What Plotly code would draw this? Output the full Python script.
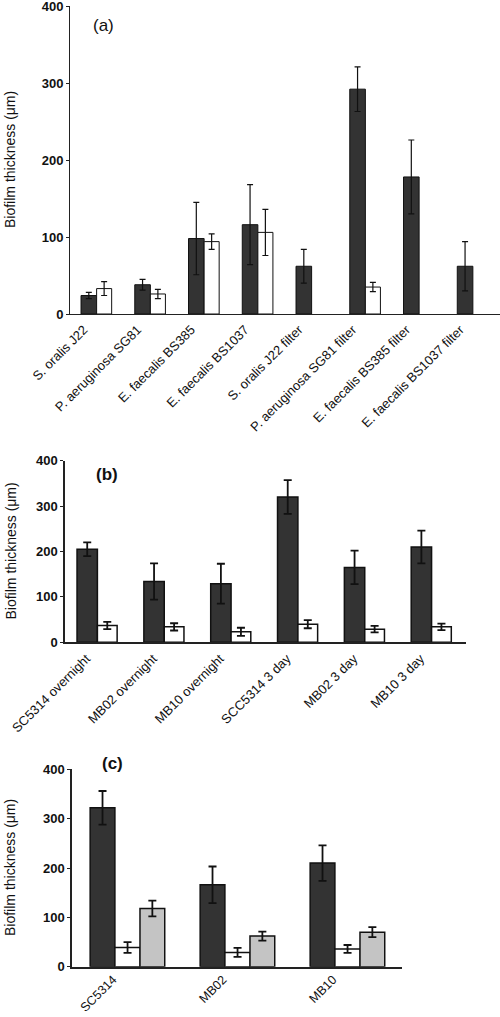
import plotly.graph_objects as go

W, H = 500, 1017

# ---------- Data ----------
cats_a = ["S. oralis J22", "P. aeruginosa SG81", "E. faecalis BS385", "E. faecalis BS1037",
          "S. oralis J22 filter", "P. aeruginosa SG81 filter", "E. faecalis BS385 filter",
          "E. faecalis BS1037 filter"]
dark_a = [24, 38, 98, 116, 62, 292, 178, 62]
dark_a_err = [4, 7, 47, 52, 22, 29, 48, 32]
white_a = [33, 26, 94, 106, None, 35, None, None]
white_a_err = [9, 6, 10, 30, None, 6, None, None]

cats_b = ["SC5314 overnight", "MB02 overnight", "MB10 overnight", "SCC5314 3 day",
          "MB02 3 day", "MB10 3 day"]
dark_b = [205, 134, 129, 320, 165, 210]
dark_b_err = [15, 40, 44, 37, 37, 36]
white_b = [37, 34, 23, 40, 29, 34]
white_b_err = [8, 8, 9, 9, 7, 7]

cats_c = ["SC5314", "MB02", "MB10"]
dark_c = [322, 166, 210]
dark_c_err = [34, 37, 36]
white_c = [39, 29, 36]
white_c_err = [11, 9, 8]
gray_c = [118, 62, 70]
gray_c_err = [16, 9, 10]

y_ticks = [0, 100, 200, 300, 400]
y_title = "Biofilm thickness (μm)"

DARK = "#333333"
WHITE = "#ffffff"
GRAY = "#c4c4c4"
FONT = "Arial, Liberation Sans, sans-serif"

fig = go.Figure()


def add_bar(x, y, err, color, xa, ya, width, offset, lw, ew, cap):
    fig.add_trace(go.Bar(
        x=x, y=y, xaxis=xa, yaxis=ya, width=width, offset=offset,
        marker=dict(color=color, line=dict(color="#111111", width=lw)),
        error_y=dict(type="data", array=err, visible=True, color="#111111",
                     thickness=ew, width=cap),
        showlegend=False, hoverinfo="skip"))


# panel a
add_bar(cats_a, dark_a, dark_a_err, DARK, "x", "y", 0.29, -0.295, 1, 1.2, 3)
add_bar(cats_a, white_a, white_a_err, WHITE, "x", "y", 0.28, -0.005, 1, 1.2, 3)
# panel b
add_bar(cats_b, dark_b, dark_b_err, DARK, "x2", "y2", 0.305, -0.32, 1.5, 1.8, 4)
add_bar(cats_b, white_b, white_b_err, WHITE, "x2", "y2", 0.295, -0.015, 1.5, 1.8, 4)
# panel c
add_bar(cats_c, dark_c, dark_c_err, DARK, "x3", "y3", 0.225, -0.335, 1.5, 1.8, 4)
add_bar(cats_c, white_c, white_c_err, WHITE, "x3", "y3", 0.23, -0.11, 1.5, 1.8, 4)
add_bar(cats_c, gray_c, gray_c_err, GRAY, "x3", "y3", 0.225, 0.118, 1.5, 1.8, 4)


def px_x(p):
    return p / W


def px_y(p):
    return (H - p) / H


def yaxis(top, bottom, anchor, lw):
    return dict(domain=[px_y(bottom), px_y(top)], range=[0, 400], tickvals=y_ticks,
                showline=True, linecolor="#222222", linewidth=lw, ticks="outside",
                ticklen=3, tickcolor="#222222", showgrid=False, zeroline=False,
                anchor=anchor, automargin=False, ticklabeloverflow="allow",
                tickfont=dict(family=FONT, size=13, color="#111111", weight="bold"))


def xaxis(left, right, anchor, lw, size, shift, standoff):
    return dict(domain=[px_x(left), px_x(right)], type="category", showline=True,
                linecolor="#222222", linewidth=lw, ticks="", showgrid=False,
                tickangle=-45, anchor=anchor, automargin=False,
                ticklabelshift=shift, ticklabelstandoff=standoff,
                ticklabeloverflow="allow",
                tickfont=dict(family=FONT, size=size, color="#111111"))


fig.update_layout(
    width=W, height=H,
    margin=dict(l=0, r=0, t=0, b=0, autoexpand=False),
    paper_bgcolor="white", plot_bgcolor="white",
    barmode="overlay",
    xaxis=xaxis(70, 500, "y", 1, 13, -13, 2),
    yaxis=yaxis(6, 314, "x", 1),
    xaxis2=xaxis(65, 466, "y2", 1.5, 13, -12, 2),
    yaxis2=yaxis(460.7, 642.3, "x2", 1.5),
    xaxis3=xaxis(72, 402, "y3", 1.5, 12.5, -14, -1),
    yaxis3=yaxis(769.3, 966.7, "x3", 1.5),
)

# y-axis titles
for yc in [160, 551.5, 868]:
    fig.add_annotation(x=px_x(10), y=px_y(yc), xref="paper", yref="paper",
                       text=y_title, textangle=-90, showarrow=False,
                       font=dict(family=FONT, size=14, color="#111111"),
                       xanchor="center", yanchor="middle")

# panel labels
for txt, xc, yc, wt in [("(a)", 103, 25.5, "normal"), ("(b)", 107, 474, "bold"),
                        ("(c)", 112, 763, "bold")]:
    fig.add_annotation(x=px_x(xc), y=px_y(yc), xref="paper", yref="paper",
                       text=txt, showarrow=False,
                       font=dict(family=FONT, size=17, color="#111111", weight=wt),
                       xanchor="center", yanchor="middle")

fig.write_html("out.html", config={"displayModeBar": False},
               post_script="document.body.style.margin='0';document.body.style.padding='0';")
